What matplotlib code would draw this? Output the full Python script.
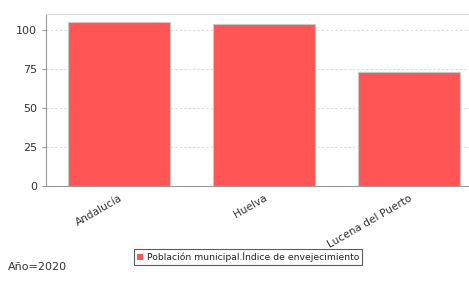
import matplotlib
matplotlib.use('Agg')
import matplotlib.pyplot as plt
from matplotlib.patches import Patch

categories = ['Andalucía', 'Huelva', 'Lucena del Puerto']
values = [104.8, 103.5, 72.8]
yticks = [0, 25, 50, 75, 100]
series_name = 'Población municipal.Índice de envejecimiento'
year_label = 'Año=2020'

fig = plt.figure(figsize=(4.69, 2.91), dpi=100)
ax = fig.add_axes([46 / 469, 105 / 291, 423 / 469, 172 / 291])

x = list(range(len(categories)))
ax.bar(x, values, width=0.703, color='#ff5555', edgecolor='#c8c8c8', linewidth=0.8, zorder=3)

ax.set_xlim(-0.503, 2.417)
ax.set_ylim(0, 110)
ax.set_yticks(yticks)
ax.set_xticks(x)
ax.set_xticklabels(categories, rotation=30, ha='right', rotation_mode='anchor', fontsize=7.6, color='#333333')
ax.tick_params(axis='y', labelsize=8, colors='#333333', length=3, width=0.8)
ax.tick_params(axis='x', length=0, pad=5)
ax.tick_params(axis='y', color='#999999')

ax.yaxis.grid(True, linestyle=(0, (2, 2)), color='#dddddd', linewidth=0.8, zorder=0)
ax.spines['left'].set_color('#999999')
ax.spines['bottom'].set_color('#999999')
ax.spines['top'].set_color('#dddddd')
ax.spines['right'].set_visible(False)

fig.text(8 / 469, 1 - 267 / 291, year_label, fontsize=8, color='#333333', va='center', ha='left')

leg = fig.legend(handles=[Patch(facecolor='#ff5555', edgecolor='none', label=series_name)],
                 loc='center', bbox_to_anchor=(248 / 469, 1 - 257 / 291), fontsize=6.7,
                 frameon=True, fancybox=False, handlelength=0.7, handleheight=0.7,
                 handletextpad=0.4, borderpad=0.25, borderaxespad=0)
leg.get_frame().set_edgecolor('#333333')
leg.get_frame().set_linewidth(0.8)
for t in leg.get_texts():
    t.set_color('#222222')

fig.savefig('out.png', dpi=100)
